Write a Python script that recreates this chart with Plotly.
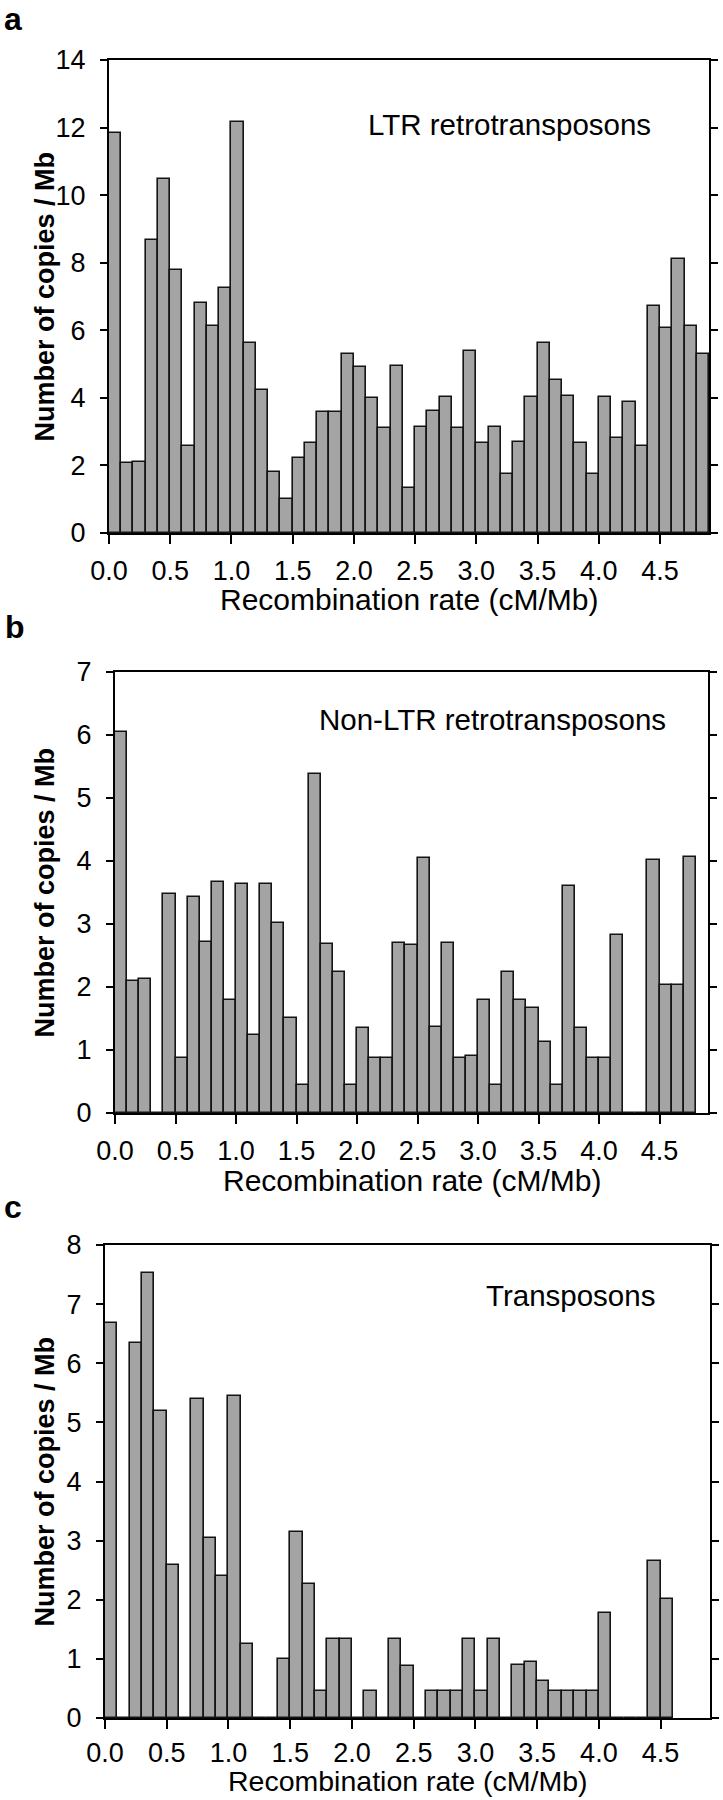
import plotly.graph_objects as go

# bin starts (cM/Mb), 0.1 wide bins
bins_a = [round(0.1 * i, 1) for i in range(49)]
ltr = [11.85, 2.07, 2.09, 8.68, 10.48, 7.78, 2.57, 6.80, 6.13, 7.26,
       12.16, 5.62, 4.23, 1.80, 1.00, 2.23, 2.67, 3.57, 3.57, 5.31,
       4.90, 4.00, 3.11, 4.93, 1.32, 3.13, 3.61, 4.03, 3.11, 5.39,
       2.67, 3.14, 1.76, 2.70, 4.03, 5.63, 4.52, 4.06, 2.67, 1.76,
       4.03, 2.82, 3.87, 2.59, 6.71, 6.08, 8.10, 6.13, 5.30]

bins_b = [round(0.1 * i, 1) for i in range(48)]
nonltr = [6.05, 2.09, 2.12, 0, 3.48, 0.87, 3.43, 2.71, 3.66, 1.80,
          3.64, 1.24, 3.63, 3.02, 1.51, 0.45, 5.38, 2.69, 2.24, 0.45,
          1.35, 0.88, 0.88, 2.70, 2.66, 4.04, 1.36, 2.70, 0.88, 0.90,
          1.79, 0.45, 2.24, 1.80, 1.66, 1.12, 0.45, 3.60, 1.35, 0.88,
          0.88, 2.82, 0, 0, 4.01, 2.03, 2.03, 4.07]

bins_c = [round(0.1 * i, 1) for i in range(46)]
transp = [6.68, 0, 6.34, 7.53, 5.20, 2.58, 0, 5.39, 3.05, 2.40,
          5.44, 1.25, 0, 0, 1.00, 3.14, 2.26, 0.45, 1.34, 1.33,
          0, 0.45, 0, 1.34, 0.88, 0, 0.45, 0.45, 0.45, 1.34,
          0.45, 1.34, 0, 0.90, 0.95, 0.62, 0.45, 0.45, 0.45, 0.45,
          1.78, 0, 0, 0, 2.66, 2.01]

panel_labels = ["a", "b", "c"]
series_names = ["LTR retrotransposons", "Non-LTR retrotransposons", "Transposons"]
x_ticks = [0.0, 0.5, 1.0, 1.5, 2.0, 2.5, 3.0, 3.5, 4.0, 4.5]
x_tick_text = ["0.0", "0.5", "1.0", "1.5", "2.0", "2.5", "3.0", "3.5", "4.0", "4.5"]
y_maxes = [14, 7, 8]
y_steps = [2, 1, 1]
x_title = "Recombination rate (cM/Mb)"
y_title = "Number of copies / Mb"

W, H = 723, 1800
# panel pixel boxes: left, right, top, bottom
boxes = [(109, 709, 60, 533), (115, 708, 672, 1113), (105, 710, 1245, 1718)]
label_pos = [(13, 0, "top"), (15, 627, "middle"), (13, 1207, "middle")]
ann_pos = [(3.27, 12.1), (3.12, 6.24), (3.77, 7.15)]
x_title_off = [67, 67, 63]
x_title_size = [30, 30, 28.5]
x_tick_standoff = [4, 4, 1]

FONT = "Liberation Sans, Arial, Helvetica, sans-serif"

fig = go.Figure()
data = [(bins_a, ltr), (bins_b, nonltr), (bins_c, transp)]
for i, (bx, by) in enumerate(data):
    xs = [b + 0.05 for b in bx]
    fig.add_trace(go.Bar(
        x=xs, y=by, width=0.1,
        marker=dict(color="#a4a4a4", line=dict(color="#141414", width=1.6)),
        xaxis=f"x{i+1}" if i else "x", yaxis=f"y{i+1}" if i else "y",
        showlegend=False, hoverinfo="x+y"))

layout = dict(width=W, height=H, margin=dict(l=0, r=0, t=0, b=0, autoexpand=False),
              template="none",
              paper_bgcolor="white", plot_bgcolor="white",
              font=dict(family=FONT, color="black"), bargap=0, annotations=[])

for i, (l, r, t, b) in enumerate(boxes):
    sx = "" if i == 0 else str(i + 1)
    xa = dict(domain=[l / W, r / W], range=[0, 4.9], anchor="y" + sx,
              tickvals=x_ticks, ticktext=x_tick_text, ticks="outside", ticklen=9,
              tickwidth=2, tickcolor="black", showline=True, linecolor="black",
              linewidth=2, mirror=True, showgrid=False, zeroline=False,
              automargin=False,
              tickfont=dict(size=27, family=FONT), ticklabelstandoff=x_tick_standoff[i])
    ya = dict(domain=[1 - b / H, 1 - t / H], range=[0, y_maxes[i]], anchor="x" + sx,
              dtick=y_steps[i], tick0=0, ticks="outside", ticklen=7, tickwidth=2,
              tickcolor="black", showline=True, linecolor="black", linewidth=2,
              mirror="ticks", showgrid=False, zeroline=False, automargin=False,
              tickfont=dict(size=27, family=FONT), ticklabelstandoff=9)
    layout["xaxis" + sx] = xa
    layout["yaxis" + sx] = ya
    # x title
    layout["annotations"].append(dict(
        text=x_title, xref="paper", yref="paper", x=(l + r) / 2 / W,
        y=1 - (b + x_title_off[i]) / H, xanchor="center", yanchor="middle",
        showarrow=False, borderpad=0, font=dict(size=x_title_size[i], family=FONT)))
    # y title
    layout["annotations"].append(dict(
        text="<b>" + y_title + "</b>", xref="paper", yref="paper", x=44 / W,
        y=1 - (t + b) / 2 / H, xanchor="center", yanchor="middle", showarrow=False,
        textangle=-90, font=dict(size=27, family=FONT)))
    # series label
    layout["annotations"].append(dict(
        text=series_names[i], xref="x" + sx, yref="y" + sx, x=ann_pos[i][0],
        y=ann_pos[i][1], xanchor="center", yanchor="middle", showarrow=False,
        font=dict(size=29.5, family=FONT)))
    # panel letter
    lx, ly, lanchor = label_pos[i]
    layout["annotations"].append(dict(
        text="<b>" + panel_labels[i] + "</b>", xref="paper", yref="paper",
        x=lx / W, y=1 - ly / H, xanchor="center", yanchor=lanchor,
        showarrow=False, borderpad=0, font=dict(size=32, family=FONT)))

fig.update_layout(**layout)
fig.write_html("out.html")
